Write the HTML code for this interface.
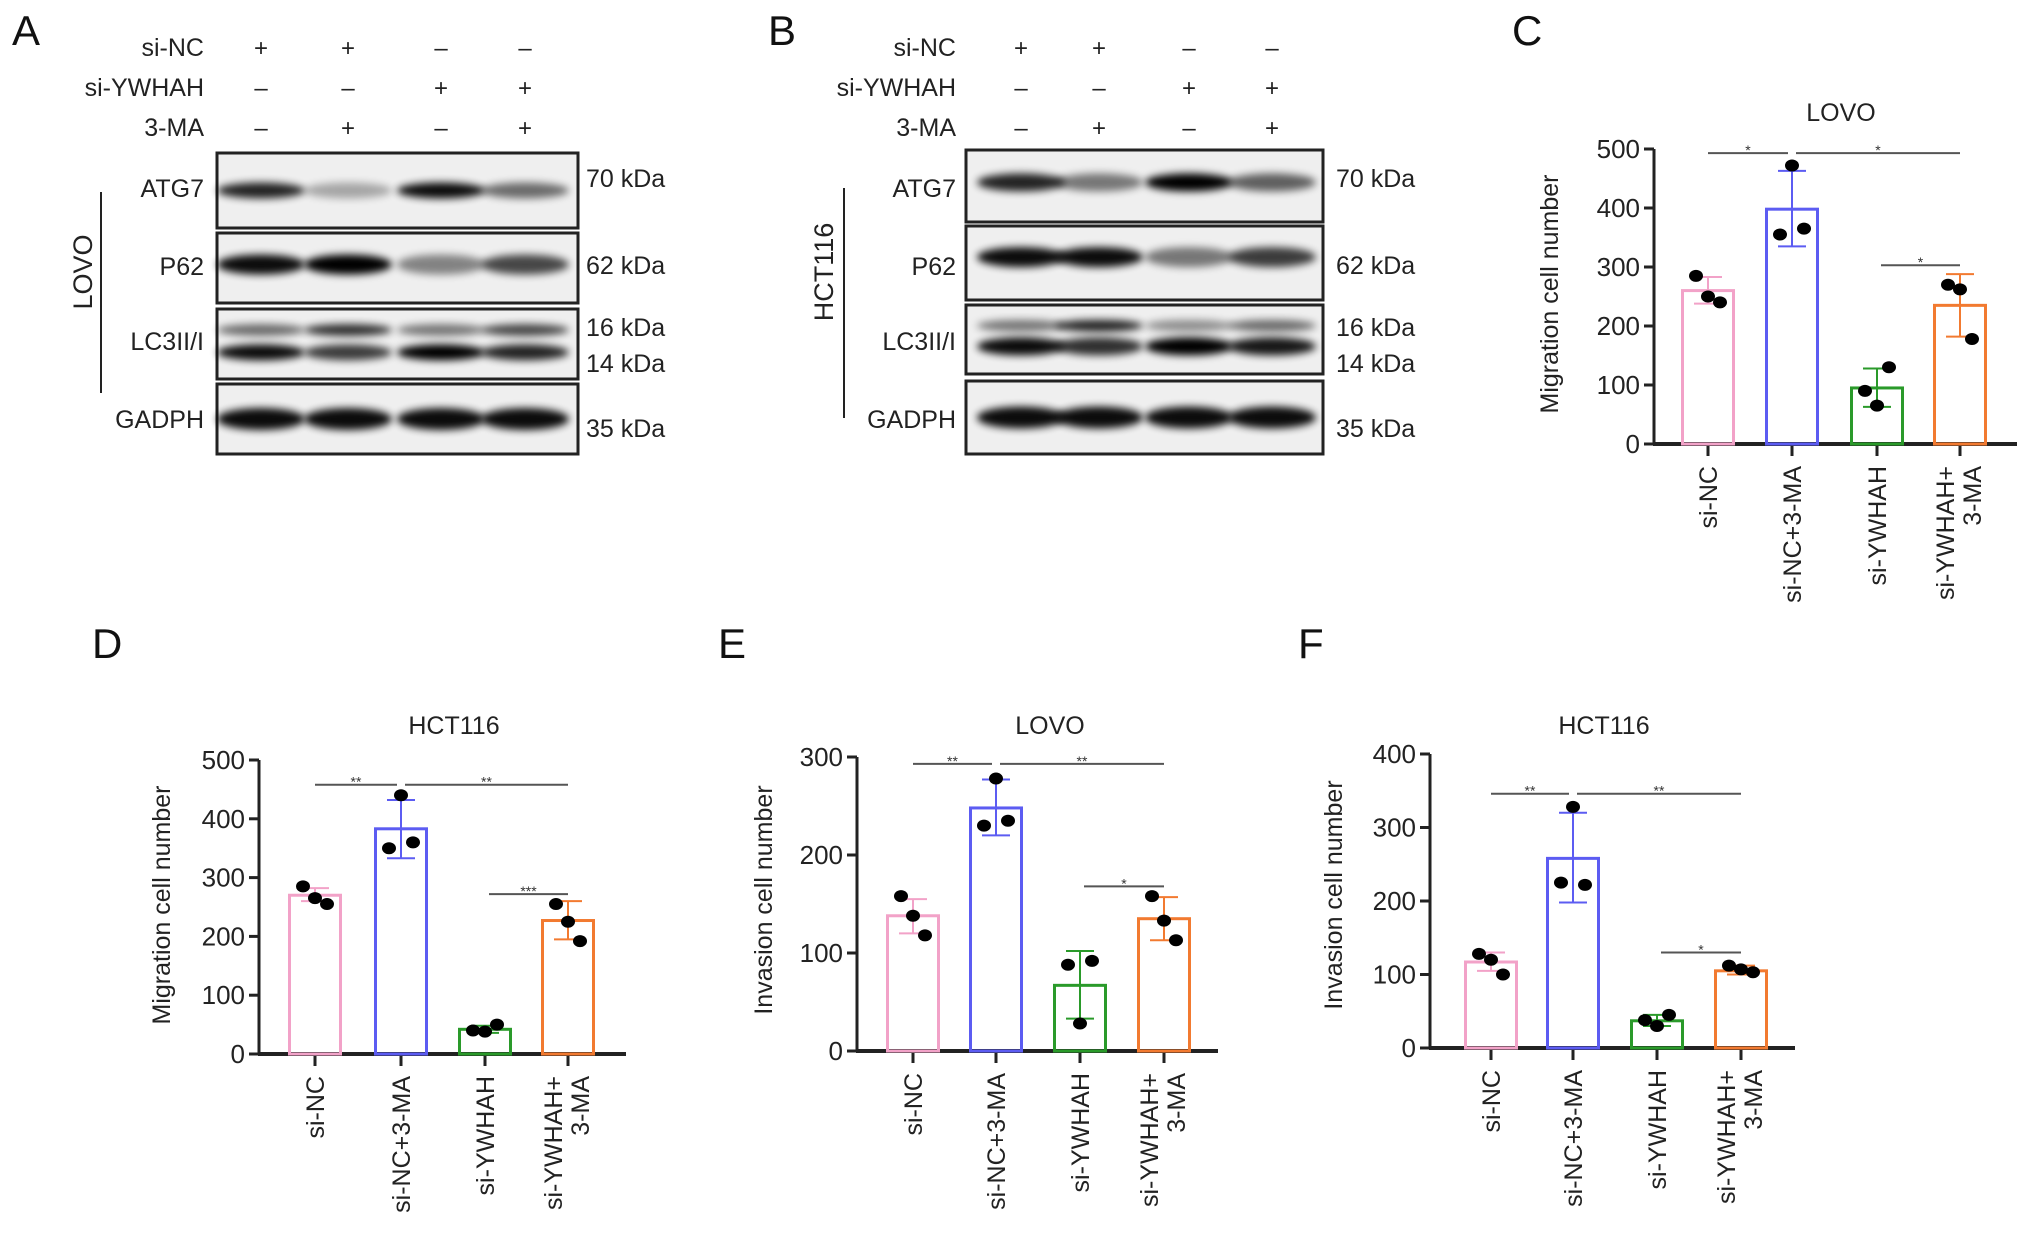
<!DOCTYPE html>
<html><head><meta charset="utf-8">
<style>
html,body{margin:0;padding:0;background:#fff;}
svg{display:block;font-family:"Liberation Sans",Arial,sans-serif;}
</style></head>
<body>
<svg id="fig" width="2032" height="1245" viewBox="0 0 2032 1245" xmlns="http://www.w3.org/2000/svg">
<defs>
<filter id="blur" x="-30%" y="-60%" width="160%" height="220%"><feGaussianBlur stdDeviation="4"/></filter>
</defs>
<g id="blots"></g>
<g id="charts"></g>
</svg>
<script>
// ---------- chart data ----------
const categories = ["si-NC","si-NC+3-MA","si-YWHAH","si-YWHAH+|3-MA"];
const colors = ["#f2a2c8","#5c5cf2","#2a9a2a","#f27a30"];
const meansC = [260,398,95,235];
const pointsC = [[285,250,240],[472,365,355],[130,90,65],[270,262,178]];
const errLowC = [238,335,63,182];
const errHighC = [283,463,128,288];
const meansD = [270,383,42,227];
const pointsD = [[285,265,255],[440,360,350],[50,40,38],[255,225,192]];
const errLowD = [260,333,36,195];
const errHighD = [282,432,48,260];
const meansE = [138,248,67,135];
const pointsE = [[158,138,118],[278,235,230],[92,88,28],[158,133,113]];
const errLowE = [120,220,33,113];
const errHighE = [155,277,102,157];
const meansF = [117,258,37,105];
const pointsF = [[128,120,100],[328,222,225],[45,38,30],[112,107,103]];
const errLowF = [105,198,30,100];
const errHighF = [130,320,45,112];
const ticksC = [0,100,200,300,400,500];
const ticksD = [0,100,200,300,400,500];
const ticksE = [0,100,200,300];
const ticksF = [0,100,200,300,400];
const sigC = [[0,1,493,"*"],[1,3,493,"*"],[2,3,303,"*"]];
const sigD = [[0,1,458,"**"],[1,3,458,"**"],[2,3,272,"***"]];
const sigE = [[0,1,293,"**"],[1,3,293,"**"],[2,3,168,"*"]];
const sigF = [[0,1,346,"**"],[1,3,346,"**"],[2,3,130,"*"]];

const NS="http://www.w3.org/2000/svg";
function mk(tag,attrs,parent,txt){const e=document.createElementNS(NS,tag);for(const k in attrs)e.setAttribute(k,attrs[k]);if(txt!==undefined)e.textContent=txt;parent.appendChild(e);return e;}

function chart(cfg){
  const root=document.getElementById('charts');
  const g=mk('g',{},root);
  
  
  const y=v=>cfg.y0-(v/cfg.max)*(cfg.y0-cfg.yTop);
  const bw=54;
  const t=mk('text',{x:cfg.titleX,y:cfg.titleY,'font-size':25,'text-anchor':'middle',fill:'#222'},g,cfg.title);
  
  
  const ya=mk('line',{x1:cfg.ax,y1:cfg.y0+1,x2:cfg.ax,y2:y(cfg.max),stroke:'#222','stroke-width':3},g);
  
  
  cfg.ticks.forEach(v=>{
    mk('line',{x1:cfg.ax-10,y1:y(v),x2:cfg.ax,y2:y(v),stroke:'#222','stroke-width':3},g);
    const tl=mk('text',{x:cfg.ax-14,y:y(v)+9,'font-size':26,'text-anchor':'end',fill:'#222'},g,v);
    
    
  });
  const yl=mk('text',{x:0,y:0,'font-size':25,'text-anchor':'middle',fill:'#222',transform:`translate(${cfg.ylx},${cfg.yly}) rotate(-90)`},g,cfg.ylabel);
  
  
  const xa=mk('line',{x1:cfg.ax-1,y1:cfg.y0,x2:cfg.axEnd,y2:cfg.y0,stroke:'#222','stroke-width':4},g);
  
  
  categories.forEach((c,i)=>{
    const cx=cfg.bx[i];
    mk('line',{x1:cx,y1:cfg.y0,x2:cx,y2:cfg.y0+12,stroke:'#222','stroke-width':3},g);
    const parts=c.split('|');
    parts.forEach((p,j)=>{
      const dx=(parts.length>1)?(j===0?-6:21):9;
      const xl=mk('text',{x:0,y:0,'font-size':25,'text-anchor':'end',fill:'#222',transform:`translate(${cx+dx},${cfg.y0+22}) rotate(-90)`},g,p);
      
      
    });
    const b=mk('rect',{x:cx-bw/2+1.5,y:y(cfg.means[i]),width:bw-3,height:cfg.y0-y(cfg.means[i]),fill:'none',stroke:colors[i],'stroke-width':3},g);
    
    
    const eg=mk('g',{stroke:colors[i],'stroke-width':2},g);
    
    
    mk('line',{x1:cx,y1:y(cfg.lo[i]),x2:cx,y2:y(cfg.hi[i])},eg);
    mk('line',{x1:cx-14,y1:y(cfg.lo[i]),x2:cx+14,y2:y(cfg.lo[i])},eg);
    mk('line',{x1:cx-14,y1:y(cfg.hi[i]),x2:cx+14,y2:y(cfg.hi[i])},eg);
    const offs=[-12,0,12];
    cfg.pts[i].forEach((v,k)=>{
      const d=mk('ellipse',{cx:cx+offs[(k+i)%3],cy:y(v),rx:7,ry:6,fill:'#000'},g);
      
      
    });
  });
  cfg.sig.forEach(s=>{
    const x1=cfg.bx[s[0]]+(s[0]===0?0:4), x2=cfg.bx[s[1]]-(s[1]===1?4:0);
    const sl=mk('line',{x1:x1,y1:y(s[2]),x2:x2,y2:y(s[2]),stroke:'#555','stroke-width':2},g);
    
    
    const st=mk('text',{x:(x1+x2)/2,y:y(s[2])+2,'font-size':14,'text-anchor':'middle',fill:'#333'},g,s[3]);
    
    
  });
}

chart({name:'chart-c-lovo-migration',title:'LOVO',titleX:1841,titleY:121,ax:1654,axEnd:2017,y0:444,yTop:149,max:500,ticks:ticksC,ylabel:'Migration cell number',ylx:1558,yly:294,bx:[1708,1792,1877,1960],means:meansC,pts:pointsC,lo:errLowC,hi:errHighC,sig:sigC});
chart({name:'chart-d-hct116-migration',title:'HCT116',titleX:454,titleY:734,ax:259,axEnd:626,y0:1054,yTop:760,max:500,ticks:ticksD,ylabel:'Migration cell number',ylx:170,yly:905,bx:[315,401,485,568],means:meansD,pts:pointsD,lo:errLowD,hi:errHighD,sig:sigD});
chart({name:'chart-e-lovo-invasion',title:'LOVO',titleX:1050,titleY:734,ax:857,axEnd:1218,y0:1051,yTop:757,max:300,ticks:ticksE,ylabel:'Invasion cell number',ylx:772,yly:900,bx:[913,996,1080,1164],means:meansE,pts:pointsE,lo:errLowE,hi:errHighE,sig:sigE});
chart({name:'chart-f-hct116-invasion',title:'HCT116',titleX:1604,titleY:734,ax:1430,axEnd:1795,y0:1048,yTop:754,max:400,ticks:ticksF,ylabel:'Invasion cell number',ylx:1342,yly:895,bx:[1491,1573,1657,1741],means:meansF,pts:pointsF,lo:errLowF,hi:errHighF,sig:sigF});

const letters=[["A",12,45],["B",768,45],["C",1512,45],["D",92,658],["E",718,658],["F",1298,658]];
const cr=document.getElementById('charts');
letters.forEach(l=>{
  const t=mk('text',{x:l[1],y:l[2],'font-size':42,fill:'#111'},cr,l[0]);
  
  
});

// ---------- western blots ----------
const signs=[["+","+","–","–"],["–","–","+","+"],["–","+","–","+"]];
const rowNames=["si-NC","si-YWHAH","3-MA"];
function blot(cfg){
  const root=document.getElementById('blots');
  const g=mk('g',{},root);
  
  
  [47,87,127].forEach((yy,r)=>{
    const t=mk('text',{x:cfg.lblR,y:yy+9,'font-size':25,'text-anchor':'end',fill:'#222'},g,rowNames[r]);
    
    
    cfg.lanes.forEach((lx,i)=>{
      const s=mk('text',{x:lx,y:yy+9,'font-size':24,'text-anchor':'middle',fill:'#222'},g,signs[r][i]);
      
      
    });
  });
  cfg.rows.forEach(row=>{
    const [y1,y2,label,ly,bands]=row;
    const rect=mk('rect',{x:cfg.bx1,y:y1,width:cfg.bx2-cfg.bx1,height:y2-y1,fill:'#efefef',stroke:'#222','stroke-width':3},g);
    
    
    bands.forEach(b=>{
      cfg.lanes.forEach((lx,i)=>{
        mk('ellipse',{cx:lx,cy:y1+(y2-y1)*b[0],rx:44,ry:b[2],fill:'#000',opacity:b[1][i],filter:'url(#blur)'},g);
      });
    });
    const t=mk('text',{x:cfg.lblR,y:ly+9,'font-size':25,'text-anchor':'end',fill:'#222'},g,label);
    
    
  });
  cfg.kda.forEach(k=>{
    const t=mk('text',{x:cfg.kx,y:k[1]+9,'font-size':25,fill:'#222'},g,k[0]);
    
    
  });
  mk('line',{x1:cfg.lineX,y1:cfg.lineY1,x2:cfg.lineX,y2:cfg.lineY2,stroke:'#222','stroke-width':2},g);
  const cl=mk('text',{x:0,y:0,'font-size':27,'text-anchor':'middle',fill:'#222',transform:`translate(${cfg.cellX},${cfg.cellY}) rotate(-90)`},g,cfg.cell);
  
  
}
blot({name:'blot-a-lovo',lblR:204,lanes:[261,348,441,525],bx1:217,bx2:578,kx:586,cell:'LOVO',cellX:92,cellY:272,lineX:101,lineY1:192,lineY2:393,
  rows:[[153,228,'ATG7',188,[[0.5,[0.85,0.3,0.95,0.55],8]]],
        [233,303,'P62',266,[[0.45,[0.95,1,0.45,0.7],10]]],
        [309,379,'LC3II/I',341,[[0.3,[0.55,0.8,0.5,0.7],6],[0.62,[0.95,0.75,1,0.85],8]]],
        [384,454,'GADPH',419,[[0.5,[0.95,0.95,0.95,0.95],11]]]],
  kda:[['70 kDa',178],['62 kDa',265],['16 kDa',327],['14 kDa',363],['35 kDa',428]]});
blot({name:'blot-b-hct116',lblR:956,lanes:[1021,1099,1189,1272],bx1:966,bx2:1323,kx:1336,cell:'HCT116',cellX:833,cellY:272,lineX:844,lineY1:188,lineY2:418,
  rows:[[150,222,'ATG7',188,[[0.45,[0.85,0.5,1,0.6],9]]],
        [226,300,'P62',266,[[0.42,[0.95,0.95,0.5,0.75],10]]],
        [305,374,'LC3II/I',341,[[0.3,[0.5,0.85,0.4,0.55],6],[0.6,[0.95,0.8,1,0.9],9]]],
        [381,454,'GADPH',419,[[0.5,[0.95,0.95,0.95,0.95],11]]]],
  kda:[['70 kDa',178],['62 kDa',265],['16 kDa',327],['14 kDa',363],['35 kDa',428]]});
</script>
</body></html>
